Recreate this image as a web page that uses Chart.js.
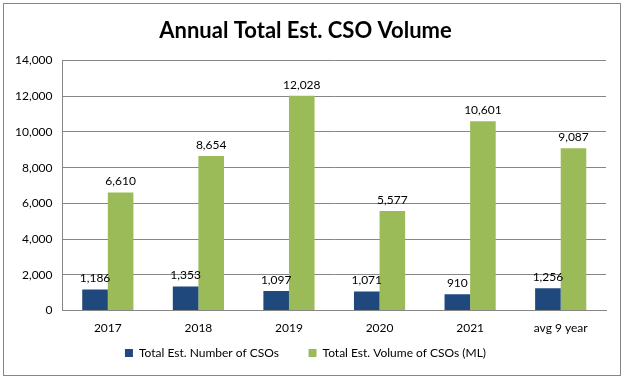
<!DOCTYPE html>
<html>
<head>
<meta charset="utf-8">
<script src="https://cdn.jsdelivr.net/npm/chart.js@4"></script>
<style>
  html, body { margin: 0; padding: 0; background: #fff; }
  #wrap { width: 626px; height: 379px; position: relative; }
</style>
</head>
<body>
<div id="wrap"><canvas id="myChart" width="626" height="379"></canvas></div>
<script>
const categories = ['2017', '2018', '2019', '2020', '2021', 'avg 9 year'];
const numberOfCSOs = [1186, 1353, 1097, 1071, 910, 1256];
const volumeOfCSOs = [6610, 8654, 12028, 5577, 10601, 9087];
const seriesNames = ['Total Est. Number of CSOs', 'Total Est. Volume of CSOs (ML)'];

const fontFamily = 'Lato, "Open Sans", sans-serif';

// value labels above the bars + outer frame
const barLabels = {
  id: 'barLabels',
  afterDatasetsDraw(chart) {
    const ctx = chart.ctx;
    ctx.save();
    ctx.font = '12px ' + fontFamily;
    ctx.fillStyle = '#000';
    ctx.textAlign = 'center';
    ctx.textBaseline = 'alphabetic';
    chart.data.datasets.forEach((ds, i) => {
      chart.getDatasetMeta(i).data.forEach((bar, j) => {
        ctx.fillText(ds.data[j].toLocaleString('en-US'), bar.x, bar.y - 7);
      });
    });
    ctx.restore();
  },
  afterDraw(chart) {
    const ctx = chart.ctx;
    ctx.save();
    ctx.strokeStyle = '#868686';
    ctx.lineWidth = 1;
    ctx.strokeRect(3.5, 3.5, 617, 372);
    ctx.restore();
  }
};

new Chart(document.getElementById('myChart'), {
  type: 'bar',
  data: {
    labels: categories,
    datasets: [
      {
        label: seriesNames[0],
        data: numberOfCSOs,
        backgroundColor: '#1F497D',
        categoryPercentage: 0.565,
        barPercentage: 1.0,
      },
      {
        label: seriesNames[1],
        data: volumeOfCSOs,
        backgroundColor: '#9BBB59',
        categoryPercentage: 0.565,
        barPercentage: 1.0,
      },
    ],
  },
  options: {
    responsive: false,
    animation: false,
    layout: { padding: { left: 5, right: 20, top: 8, bottom: 10 } },
    plugins: {
      title: {
        display: true,
        text: 'Annual Total Est. CSO Volume',
        color: '#000',
        font: { family: fontFamily, size: 22, weight: 'bold' },
        padding: { top: 10, bottom: 16 },
      },
      legend: {
        position: 'bottom',
        labels: {
          color: '#000',
          font: { family: fontFamily, size: 12 },
          boxWidth: 8,
          boxHeight: 8,
          padding: 5,
          generateLabels(chart) {
            const items = Chart.defaults.plugins.legend.labels.generateLabels(chart);
            items[0].text = items[0].text + '        ';
            return items;
          },
        },
      },
      tooltip: { enabled: false },
    },
    scales: {
      x: {
        grid: { display: false, drawTicks: false },
        border: { color: '#868686' },
        ticks: { color: '#000', font: { family: fontFamily, size: 12 }, padding: 10 },
        afterFit: (axis) => { axis.height -= 3; },
      },
      y: {
        min: 0,
        max: 14000,
        ticks: {
          stepSize: 2000,
          color: '#000',
          font: { family: fontFamily, size: 12 },
          padding: 10,
          callback: (v) => v.toLocaleString('en-US'),
        },
        grid: { color: '#868686', drawTicks: false },
        border: { color: '#868686' },
      },
    },
  },
  plugins: [barLabels],
});
</script>
</body>
</html>
